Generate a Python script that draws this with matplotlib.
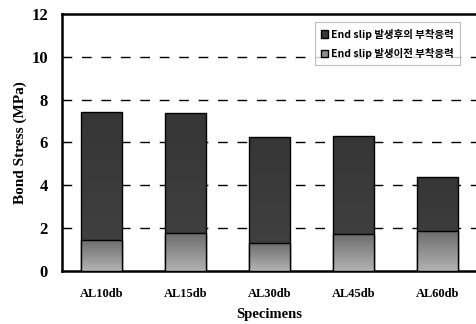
import matplotlib.pyplot as plt
import numpy as np

# 데이터
specimens = ["AL10db", "AL15db", "AL30db", "AL45db", "AL60db"]
after_slip = [7.43, 7.38, 6.26, 6.30, 4.39]
before_slip = [1.45, 1.78, 1.31, 1.73, 1.87]

fig = plt.figure(figsize=(4.77, 3.24), dpi=100)
ax = fig.add_axes([0.130, 0.164, 0.87, 0.793])

x = np.arange(len(specimens))
w = 0.49

# 그라데이션 채우기
def grad_fill(bar, c_top, c_bot):
    x0, y0 = bar.get_x(), bar.get_y()
    bw, bh = bar.get_width(), bar.get_height()
    g = np.linspace(c_top, c_bot, 64).reshape(-1, 1)
    img = np.repeat(g[:, :, None], 3, axis=2)
    im = ax.imshow(img, extent=[x0, x0 + bw, y0, y0 + bh], aspect='auto',
                   origin='upper', zorder=bar.get_zorder() - 0.1, interpolation='bilinear')
    im.set_clip_path(bar)

bars_a = ax.bar(x, after_slip, w, color='#3a3a3a', edgecolor='black', linewidth=1.0,
                zorder=3, label='End slip 발생후의 부착응력')
bars_b = ax.bar(x, before_slip, w, color='#909090', edgecolor='black', linewidth=1.0,
                zorder=4, label='End slip 발생이전 부착응력')

for b in bars_a:
    b.set_facecolor('none')
    grad_fill(b, 0.21, 0.26)
for b in bars_b:
    b.set_facecolor('none')
    grad_fill(b, 0.42, 0.70)

ax.set_xlim(-0.476, 4.476)
ax.set_ylim(0, 12)
ax.set_yticks(range(0, 13, 2))
ax.set_xticks(x)
ax.set_xticklabels(specimens)

for y in range(2, 12, 2):
    ax.axhline(y, color='black', linestyle=(0, (7, 7)), linewidth=1.0, zorder=1)

tick_font = dict(family='Liberation Serif', weight='bold')
for lab in ax.get_yticklabels():
    lab.set_fontproperties('Liberation Serif')
    lab.set_fontweight('bold')
    lab.set_fontsize(12)
for lab in ax.get_xticklabels():
    lab.set_fontproperties('Liberation Serif')
    lab.set_fontweight('bold')
    lab.set_fontsize(9)

ax.tick_params(axis='y', direction='in', length=4, pad=10)
ax.tick_params(axis='x', length=0, pad=12)
ax.set_ylabel('Bond Stress (MPa)', fontsize=11, labelpad=3, **tick_font)
ax.set_xlabel('Specimens', fontsize=10.5, labelpad=6, **tick_font)

for s in ['left', 'bottom', 'top']:
    ax.spines[s].set_linewidth(1.8)
ax.spines['right'].set_visible(False)

leg = ax.legend(loc='upper right', bbox_to_anchor=(0.965, 0.975),
                prop={'family': ['Noto Sans CJK KR', 'DejaVu Sans'], 'weight': 'bold', 'size': 7.5},
                handlelength=0.7, handleheight=0.7, handletextpad=0.3,
                labelspacing=0.8, fancybox=False, edgecolor='#b0b0b0', borderpad=0.6,
                borderaxespad=0.2)
leg.get_frame().set_linewidth(0.8)
for h, c in zip(leg.legend_handles, ['#3a3a3a', '#909090']):
    h.set_facecolor(c)
    h.set_edgecolor('black')

fig.savefig('out.png', dpi=100)
